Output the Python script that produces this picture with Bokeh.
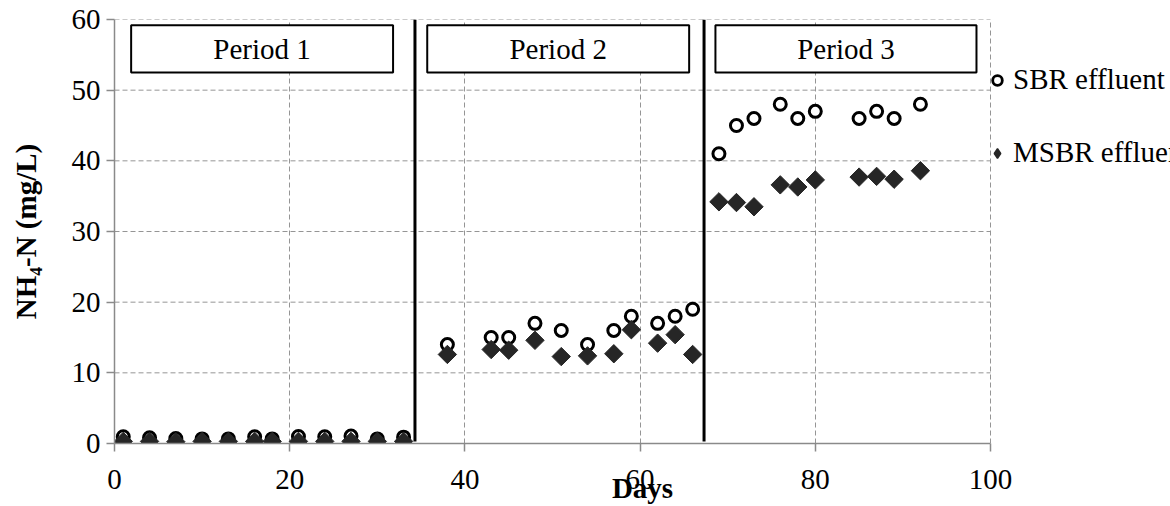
import math
from bokeh.plotting import figure
from bokeh.models import ColumnDataSource, Legend, LegendItem, FixedTicker, Range1d, BoxAnnotation
from bokeh.core.properties import value
from bokeh.embed import file_html
from bokeh.resources import INLINE

# ---- data ----
days = [1, 4, 7, 10, 13, 16, 18, 21, 24, 27, 30, 33,
        38, 43, 45, 48, 51, 54, 57, 59, 62, 64, 66,
        69, 71, 73, 76, 78, 80, 85, 87, 89, 92]
sbr_effluent = [0.95, 0.8, 0.7, 0.65, 0.65, 0.95, 0.65, 1.0, 0.95, 1.05, 0.65, 0.9,
                14.0, 15.0, 15.0, 17.0, 16.0, 14.0, 16.0, 18.0, 17.0, 18.0, 19.0,
                41.0, 45.0, 46.0, 48.0, 46.0, 47.0, 46.0, 47.0, 46.0, 48.0]
msbr_effluent = [0.3, 0.3, 0.25, 0.3, 0.3, 0.3, 0.3, 0.3, 0.3, 0.3, 0.3, 0.3,
                 12.6, 13.3, 13.2, 14.6, 12.3, 12.4, 12.7, 16.1, 14.2, 15.4, 12.6,
                 34.2, 34.1, 33.5, 36.6, 36.3, 37.3, 37.7, 37.8, 37.4, 38.6]
series_names = ["SBR effluent", "MSBR effluent"]
period_names = ["Period 1", "Period 2", "Period 3"]
period_box_left = [1.9, 35.7, 68.6]
period_box_right = [31.8, 65.6, 98.4]
period_bounds = [34.3, 67.3]
x_ticks = [0, 20, 40, 60, 80, 100]
y_ticks = [0, 10, 20, 30, 40, 50, 60]

FONT = "Liberation Serif"
GRID = "#959595"

W, H = 1170, 506
LEFT, TOP, BOTTOM = 114, 19, 62
px_per_day = (990 - LEFT) / 100.0
x_end = 100 + (W - 990) / px_per_day

p = figure(width=W, height=H, output_backend="svg", toolbar_location=None,
           x_range=Range1d(0, x_end), y_range=Range1d(0, 60),
           min_border_left=LEFT, min_border_right=0, min_border_top=TOP, min_border_bottom=BOTTOM)
p.outline_line_color = None
p.background_fill_color = "white"

# grid: vertical via grid, horizontal drawn only over the data span
p.xgrid.grid_line_color = GRID
p.xgrid.grid_line_dash = "5 3"
p.xgrid.grid_line_width = 1
p.xgrid.ticker = FixedTicker(ticks=x_ticks)
p.ygrid.grid_line_color = None
hsrc = ColumnDataSource(dict(y=[t for t in y_ticks if t > 0],
                             x0=[x_ticks[0]] * (len(y_ticks) - 1),
                             x1=[x_ticks[-1]] * (len(y_ticks) - 1)))
p.segment(x0="x0", x1="x1", y0="y", y1="y", source=hsrc,
          line_color=GRID, line_dash="5 3", line_width=1, level="underlay")

# axes
p.xaxis.ticker = FixedTicker(ticks=x_ticks)
p.yaxis.ticker = FixedTicker(ticks=y_ticks)
p.xaxis.bounds = (x_ticks[0], x_ticks[-1])
for ax in (p.xaxis[0], p.yaxis[0]):
    ax.axis_line_color = "#8a8a8a"
    ax.axis_line_width = 1.5
    ax.major_tick_line_color = "#8a8a8a"
    ax.major_tick_line_width = 1.5
    ax.major_tick_out = 8
    ax.major_tick_in = 0
    ax.minor_tick_line_color = None
    ax.major_label_text_font = FONT
    ax.major_label_text_font_size = "29px"
    ax.major_label_text_color = "black"
    ax.axis_label_text_font = FONT
    ax.axis_label_text_font_size = "29px"
    ax.axis_label_text_font_style = "bold"
    ax.axis_label_text_color = "black"
p.xaxis.axis_label = "Days"
p.xaxis.major_label_standoff = 18
p.xaxis.axis_label_standoff = -20
p.yaxis.axis_label = "NH\u2084-N (mg/L)"
p.yaxis.major_label_standoff = 6
p.yaxis.axis_label_standoff = 27

# period boundary lines
bsrc = ColumnDataSource(dict(x=period_bounds, y0=[0.3] * len(period_bounds), y1=[60] * len(period_bounds)))
p.segment(x0="x", x1="x", y0="y0", y1="y1", source=bsrc, line_color="black", line_width=3)

# period boxes
for l, r in zip(period_box_left, period_box_right):
    p.add_layout(BoxAnnotation(left=l, right=r, bottom=52.5, top=59.2,
                               fill_color="white", fill_alpha=1.0,
                               line_color="black", line_alpha=1.0, line_width=2,
                               level="annotation"))
psrc = ColumnDataSource(dict(x=[(l + r) / 2 for l, r in zip(period_box_left, period_box_right)],
                             y=[55.85] * 3, t=period_names))
p.text(x="x", y="y", text="t", source=psrc, text_font=value(FONT), text_font_size="29px",
       text_align="center", text_baseline="middle", text_color="black", level="overlay")

src = ColumnDataSource(dict(x=days, sbr=sbr_effluent, msbr=msbr_effluent))

# legend-only glyphs: zero size in the plot (legend sizes its own swatch), drawn beneath the real marks
leg_sbr = p.scatter(x="x", y="sbr", source=src, marker="circle", size=0, level="underlay",
                    fill_color="white", line_color="black", line_width=2.8)
leg_msbr = p.scatter(x="x", y="msbr", source=src, marker="diamond", size=0, level="underlay",
                     fill_color="#262626", line_color="#262626", line_width=1.5)

# data
r_sbr = p.scatter(x="x", y="sbr", source=src, marker="circle", size=12,
                  fill_color="white", line_color="black", line_width=3)
r_msbr = p.scatter(x="x", y="msbr", source=src, marker="square", size=13, angle=math.pi / 4,
                   fill_color="#262626", line_color="#262626", line_width=1)

legend = Legend(items=[LegendItem(label=series_names[0], renderers=[leg_sbr]),
                       LegendItem(label=series_names[1], renderers=[leg_msbr])],
                location=(871, 274), orientation="vertical",
                padding=0, margin=0, spacing=40,
                glyph_width=24, glyph_height=24, label_height=25, label_standoff=4,
                label_text_font=FONT, label_text_font_size="29px", label_text_color="black",
                background_fill_alpha=0, border_line_color=None)
p.add_layout(legend, "center")

open("out.html", "w").write(file_html(p, INLINE))
